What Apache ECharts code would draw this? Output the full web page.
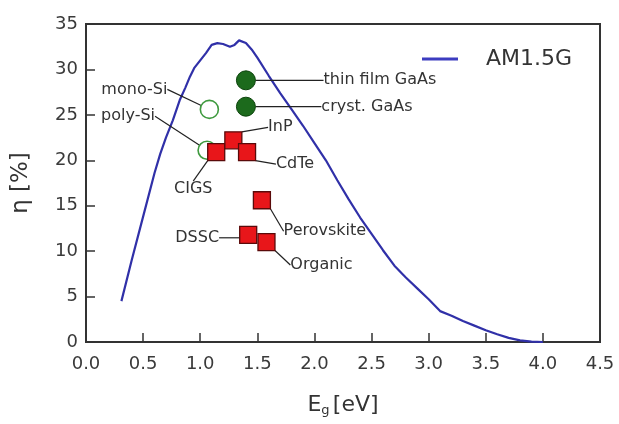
<!DOCTYPE html>
<html>
<head>
<meta charset="utf-8">
<script src="https://cdn.jsdelivr.net/npm/echarts@6/dist/echarts.min.js"></script>
<style>
  html, body { margin: 0; padding: 0; background: #fff; }
  #chart { width: 619px; height: 424px; }
</style>
</head>
<body>
<div id="chart"></div>
<script>
// Shockley–Queisser limit under the AM1.5G spectrum
const curveEg  = [0.31, 0.40, 0.50, 0.60, 0.65, 0.70, 0.76, 0.82, 0.87, 0.91, 0.95, 1.00, 1.05, 1.10, 1.15, 1.20, 1.26, 1.30, 1.34, 1.40, 1.45, 1.50, 1.60, 1.70, 1.80, 1.90, 2.00, 2.10, 2.20, 2.30, 2.40, 2.50, 2.60, 2.70, 2.80, 2.90, 3.00, 3.10, 3.20, 3.30, 3.40, 3.50, 3.60, 3.70, 3.80, 3.90, 4.00];
const curveEta = [4.5, 9.0, 13.8, 18.6, 20.7, 22.5, 24.4, 26.6, 28.0, 29.2, 30.2, 31.0, 31.8, 32.7, 32.9, 32.8, 32.5, 32.7, 33.2, 32.9, 32.2, 31.3, 29.3, 27.4, 25.6, 23.8, 21.9, 20.0, 17.8, 15.7, 13.7, 11.9, 10.1, 8.4, 7.1, 5.9, 4.7, 3.4, 2.9, 2.3, 1.8, 1.3, 0.85, 0.45, 0.18, 0.05, 0];

// Record cells: silicon (open circles)
const siNames = ['mono-Si', 'poly-Si'];
const siEg    = [1.08, 1.06];
const siEta   = [25.6, 21.1];

// GaAs cells (filled green circles)
const gaasNames = ['thin film GaAs', 'cryst. GaAs'];
const gaasEg    = [1.40, 1.40];
const gaasEta   = [28.8, 25.9];

// Thin-film and emerging cells (red squares)
const otherNames = ['CIGS', 'InP', 'CdTe', 'Perovskite', 'DSSC', 'Organic'];
const otherEg    = [1.14, 1.29, 1.41, 1.54, 1.42, 1.58];
const otherEta   = [20.9, 22.2, 20.9, 15.6, 11.8, 11.0];

// Tick labels
const xTicks = ['0.0', '0.5', '1.0', '1.5', '2.0', '2.5', '3.0', '3.5', '4.0', '4.5'];

// Label offsets (px) relative to each marker
const siShift    = [[-75, -20], [-79, -34]];
const gaasShift  = [[134, 0], [121, 0]];
const otherShift = [[-23, 37], [47, -13], [48, 12], [63, 31], [-51, 3], [55, 23]];

const points = (names, xs, ys) => names.map((n, i) => ({ name: n, value: [xs[i], ys[i]] }));
const curve = curveEg.map((e, i) => [e, curveEta[i]]);

const labelFont = { fontFamily: 'DejaVu Sans', fontSize: 16, color: '#333', opacity: 1 };
const guide = { show: true, lineStyle: { color: '#222', width: 1.2, opacity: 1 } };

const chart = echarts.init(document.getElementById('chart'), null, { renderer: 'canvas' });
chart.setOption({
  animation: false,
  backgroundColor: '#fff',
  grid: { left: 86, right: 19, top: 24, bottom: 82, show: true, borderColor: '#333', borderWidth: 2 },
  legend: {
    data: [{ name: 'AM1.5G', icon: 'rect' }],
    left: 422, top: 48, padding: 0,
    itemWidth: 36, itemHeight: 3,
    itemStyle: { color: '#3c3cc0' },
    textStyle: { fontFamily: 'DejaVu Sans', fontSize: 22, color: '#333', padding: [0, 0, 0, 23] }
  },
  xAxis: {
    type: 'value', min: 0, max: 4.5, interval: 0.5,
    name: '{e|E}{s|g} {e|[eV]}', nameLocation: 'middle', nameGap: 52,
    nameTextStyle: {
      rich: {
        e: { fontFamily: 'DejaVu Sans', fontSize: 22, color: '#333' },
        s: { fontFamily: 'DejaVu Sans', fontSize: 13, color: '#333', verticalAlign: 'bottom', padding: [10, 0, 0, 0] }
      }
    },
    axisLine: { lineStyle: { color: '#333', width: 2 } },
    axisTick: { inside: true, length: 9, lineStyle: { color: '#333', width: 1.5 } },
    axisLabel: {
      margin: 13, fontFamily: 'DejaVu Sans', fontSize: 18, color: '#3a3a3a',
      formatter: v => xTicks[Math.round(v / 0.5)]
    },
    splitLine: { show: false }
  },
  yAxis: {
    type: 'value', min: 0, max: 35, interval: 5,
    name: 'η [%]', nameLocation: 'middle', nameGap: 53,
    nameTextStyle: { fontFamily: 'DejaVu Sans', fontSize: 23, color: '#333' },
    axisLine: { lineStyle: { color: '#333', width: 2 } },
    axisTick: { inside: true, length: 9, lineStyle: { color: '#333', width: 1.5 } },
    axisLabel: { margin: 8, fontFamily: 'DejaVu Sans', fontSize: 18, color: '#3a3a3a' },
    splitLine: { show: false }
  },
  series: [
    {
      name: 'AM1.5G', type: 'line', data: curve, symbol: 'none',
      lineStyle: { color: '#3030a8', width: 2.2 }, itemStyle: { color: '#3c3cc0' }, z: 2
    },
    {
      name: 'Si', type: 'scatter', data: points(siNames, siEg, siEta),
      symbol: 'circle', symbolSize: 18,
      itemStyle: { color: '#fff', borderColor: '#3f9a3f', borderWidth: 1.6, opacity: 1 },
      label: Object.assign({ show: true, position: 'inside', formatter: '{b}' }, labelFont),
      labelLine: guide,
      labelLayout: p => ({ dx: siShift[p.dataIndex][0], dy: siShift[p.dataIndex][1] }),
      z: 3
    },
    {
      name: 'GaAs', type: 'scatter', data: points(gaasNames, gaasEg, gaasEta),
      symbol: 'circle', symbolSize: 19,
      itemStyle: { color: '#1c6a1c', borderColor: '#0c440c', borderWidth: 1, opacity: 1 },
      label: Object.assign({ show: true, position: 'inside', formatter: '{b}' }, labelFont),
      labelLine: guide,
      labelLayout: p => ({ dx: gaasShift[p.dataIndex][0], dy: gaasShift[p.dataIndex][1] }),
      z: 4
    },
    {
      name: 'other', type: 'scatter', data: points(otherNames, otherEg, otherEta),
      symbol: 'rect', symbolSize: 17,
      itemStyle: { color: '#e8161a', borderColor: '#5a0a0a', borderWidth: 1.3, opacity: 1 },
      label: Object.assign({ show: true, position: 'inside', formatter: '{b}' }, labelFont),
      labelLine: guide,
      labelLayout: p => ({ dx: otherShift[p.dataIndex][0], dy: otherShift[p.dataIndex][1] }),
      z: 5
    }
  ]
});
</script>
</body>
</html>
